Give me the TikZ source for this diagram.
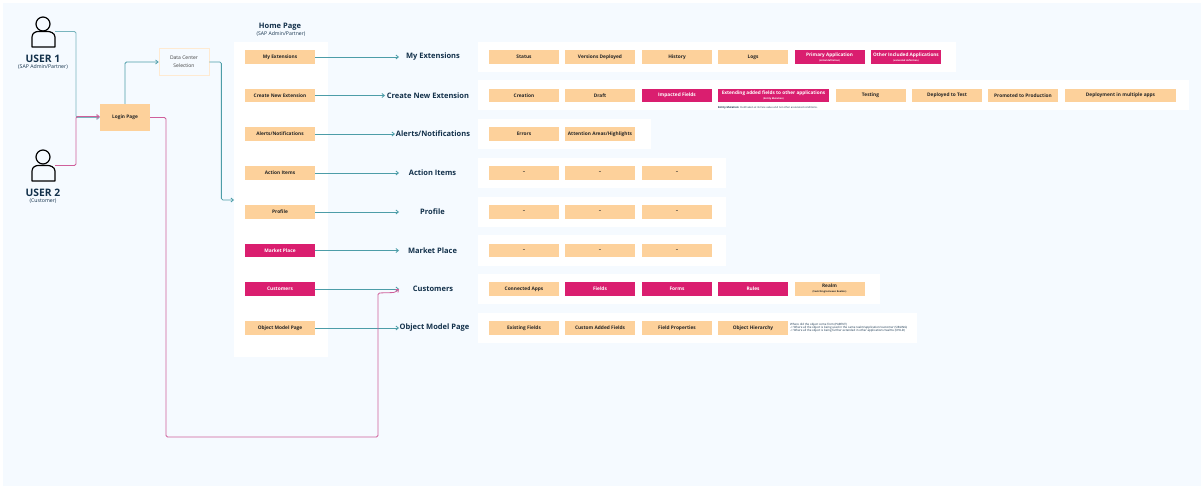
\documentclass[tikz,border=0pt]{standalone}
\usepackage{fontspec}
\setmainfont{Open Sans}
\usetikzlibrary{arrows.meta}
\definecolor{pagebg}{HTML}{F5FAFF}
\definecolor{boxorange}{HTML}{FDD19B}
\definecolor{boxpink}{HTML}{DA1E6F}
\definecolor{lineteal}{HTML}{4C9DA8}
\definecolor{linepink}{HTML}{CF5F9B}
\definecolor{inkdark}{HTML}{12304A}
\tikzset{
   itembox/.style={fill=boxorange, draw=none, minimum width=70pt, minimum height=13.5pt,
      inner sep=0pt, font=\fontsize{4.8}{6}\selectfont\bfseries, text=black!85},
   hotbox/.style={itembox, fill=boxpink, text=white},
   twoline/.style={align=center, font=\fontsize{4.7}{4}\selectfont\bfseries},
   rowtitle/.style={font=\fontsize{7.5}{9}\selectfont\bfseries, text=inkdark, inner sep=0pt},
   tealline/.style={draw=lineteal, line width=.8pt, rounded corners=1.5pt, -{Straight Barb[length=2.5pt,width=4pt]}},
   pinkline/.style={draw=linepink, line width=.8pt, rounded corners=1.5pt, -{Straight Barb[length=2.5pt,width=4pt]}},
   person/.style={draw=black, line width=1.2pt, line join=round}
}
\begin{document}
\begin{tikzpicture}[x=1pt,y=-1pt]
   \useasboundingbox (0,0) rectangle (1201,486);
   \fill[white] (0,0) rectangle (1201,486);
   \fill[pagebg] (3,3) rectangle (1201,486);

   % users
   \draw[person] (43,24) circle[radius=7];
   \draw[person] (32,47) -- (32,37) .. controls (32,33) and (36,31.5) .. (38,31.5) -- (48,31.5) .. controls (50,31.5) and (55,33) .. (55,37) -- (55,47) -- cycle;
   \draw[person] (43,157) circle[radius=7];
   \draw[person] (32,181) -- (32,171) .. controls (32,167) and (36,165.5) .. (38,165.5) -- (48,165.5) .. controls (50,165.5) and (55,167) .. (55,171) -- (55,181) -- cycle;
   \node[font=\fontsize{10.3}{11}\selectfont\bfseries, text=inkdark, inner sep=0pt] (user1) at (43,59) {USER 1};
   \node[font=\fontsize{5.2}{6}\selectfont, text=inkdark, inner sep=0pt] (user1sub) at (43,67) {(SAP Admin/Partner)};
   \node[font=\fontsize{10.3}{11}\selectfont\bfseries, text=inkdark, inner sep=0pt] (user2) at (43,193) {USER 2};
   \node[font=\fontsize{5.2}{6}\selectfont, text=inkdark, inner sep=0pt] (user2sub) at (43,201) {(Customer)};
   \coordinate (user1out) at (55,31.5);
   \coordinate (user2out) at (55,165.5);

   \node[itembox, minimum width=50pt, minimum height=27pt] (login) at (125,117.5) {Login Page};
   \node[fill=pagebg, draw=boxorange!45, line width=.7pt, minimum width=50pt, minimum height=27pt, inner sep=0pt,
      align=center, font=\fontsize{5}{8}\selectfont, text=black!75] (center) at (184,62) {Data Center\\Selection};

   % home page
   \fill[white] (234,42) rectangle (328,357);
   \node[font=\fontsize{7.5}{8}\selectfont\bfseries, text=inkdark, inner sep=0pt] (home) at (280,27) {Home Page};
   \node[font=\fontsize{5.1}{6}\selectfont, text=inkdark, inner sep=0pt] (homesub) at (281,33.5) {(SAP Admin/Partner)};
   \coordinate (homeleft) at (234,200);

   % panels behind the rows
   \foreach \py/\pend in {57/956,95.5/1189,134/651,173/726,212/726,250.5/726,289/880,328/917}
      \fill[white] (478,\py-15) rectangle (\pend,\py+15);

   % left column, titles, arrows
   \foreach \n/\y/\tx/\sty/\xend/\txt in {
      ext/57/433/itembox/399/{My Extensions},
      new/95.5/428/itembox/385/{Create New Extension},
      alert/134/433/itembox/395/{Alerts/Notifications},
      action/173/432.5/itembox/399/{Action Items},
      profile/212/432.5/itembox/399/{Profile},
      market/250.5/432.5/hotbox/399/{Market Place},
      cust/289/433/hotbox/399/{Customers},
      model/328/434.5/itembox/399/{Object Model Page}}{
      \node[\sty] (\n) at (280,\y) {\txt};
      \node[rowtitle] (title\n) at (\tx,\y) {\txt};
      \coordinate (end\n) at (\xend,\y);
      \draw[tealline] (\n) -- (end\n);
   }

   % row items
   \foreach \n/\x/\y/\sty/\txt in {
      a1/524/57/itembox/{Status}, a2/600/57/itembox/{Versions Deployed}, a3/677/57/itembox/{History}, a4/753/57/itembox/{Logs},
      b1/524/95.5/itembox/{Creation}, b2/600/95.5/itembox/{Draft}, b3/677/95.5/hotbox/{Impacted Fields},
      b5/870.5/95.5/itembox/{Testing}, b6/947/95.5/itembox/{Deployed to Test}, b7/1023/95.5/itembox/{Promoted to Production},
      c1/524/134/itembox/{Errors}, c2/600/134/itembox/{Attention Areas/Highlights},
      d1/524/173/itembox/{--}, d2/600/173/itembox/{--}, d3/677/173/itembox/{--},
      e1/524/212/itembox/{--}, e2/600/212/itembox/{--}, e3/677/212/itembox/{--},
      f1/524/250.5/itembox/{--}, f2/600/250.5/itembox/{--}, f3/677/250.5/itembox/{--},
      g1/524/289/itembox/{Connected Apps}, g2/600/289/hotbox/{Fields}, g3/677/289/hotbox/{Forms}, g4/753/289/hotbox/{Rules},
      h1/524/328/itembox/{Existing Fields}, h2/600/328/itembox/{Custom Added Fields}, h3/677/328/itembox/{Field Properties}, h4/753/328/itembox/{Object Hierarchy}}{
      \node[\sty] (\n) at (\x,\y) {\txt};
   }

   % boxes with a second small line
   \node[hotbox, twoline] (a5) at (829.5,57) {Primary Application\\[1pt]{\fontsize{2.4}{3}\selectfont (initial definition)}};
   \node[hotbox, twoline] (a6) at (906,57) {Other Included Applications\\[1pt]{\fontsize{2.4}{3}\selectfont (extended definition)}};
   \node[hotbox, twoline, minimum width=111pt] (b4) at (773.5,95.5) {Extending added fields to other applications\\[1pt]{\fontsize{2.4}{3}\selectfont (Entity Mutation)}};
   \node[itembox, minimum width=111pt] (b8) at (1120.5,95.5) {Deployment in multiple apps};
   \node[itembox, twoline] (g5) at (829.5,289) {Realm\\[1pt]{\fontsize{2.4}{3}\selectfont (Switching between Realms)}};

   % small notes
   \node[anchor=west, inner sep=0pt, text=inkdark, font=\fontsize{2.6}{4}\selectfont] (b4note) at (718,107.5) {\textbf{Entity Mutation:} Field taken at its face value and not other associated conditions.};
   \node[anchor=west, inner sep=0pt, text=inkdark, align=left, font=\fontsize{2.9}{3.2}\selectfont] (h4note) at (790,328) {Where did the object come from (PARENT)\\-> Where all the object is being used in the same realm/application/customer (SIBLING)\\-> Where all the object is being further extended in other applications/realms (CHILD)};

   % connectors
   \draw[tealline, draw=lineteal!75] (user1out) -- ++(21,0) |- (login.west);
   \draw[pinkline] (user2out) -- ++(21,0) |- ([yshift=1pt]login.west);
   \draw[tealline] (login.north) |- (center.west);
   \draw[tealline] (center.east) -| ++(12,138) -- (homeleft);
   \draw[pinkline] (login.east) -| (166,437) -| (378,293) -- (395,292.5) -- (endcust);
\end{tikzpicture}
\end{document}
